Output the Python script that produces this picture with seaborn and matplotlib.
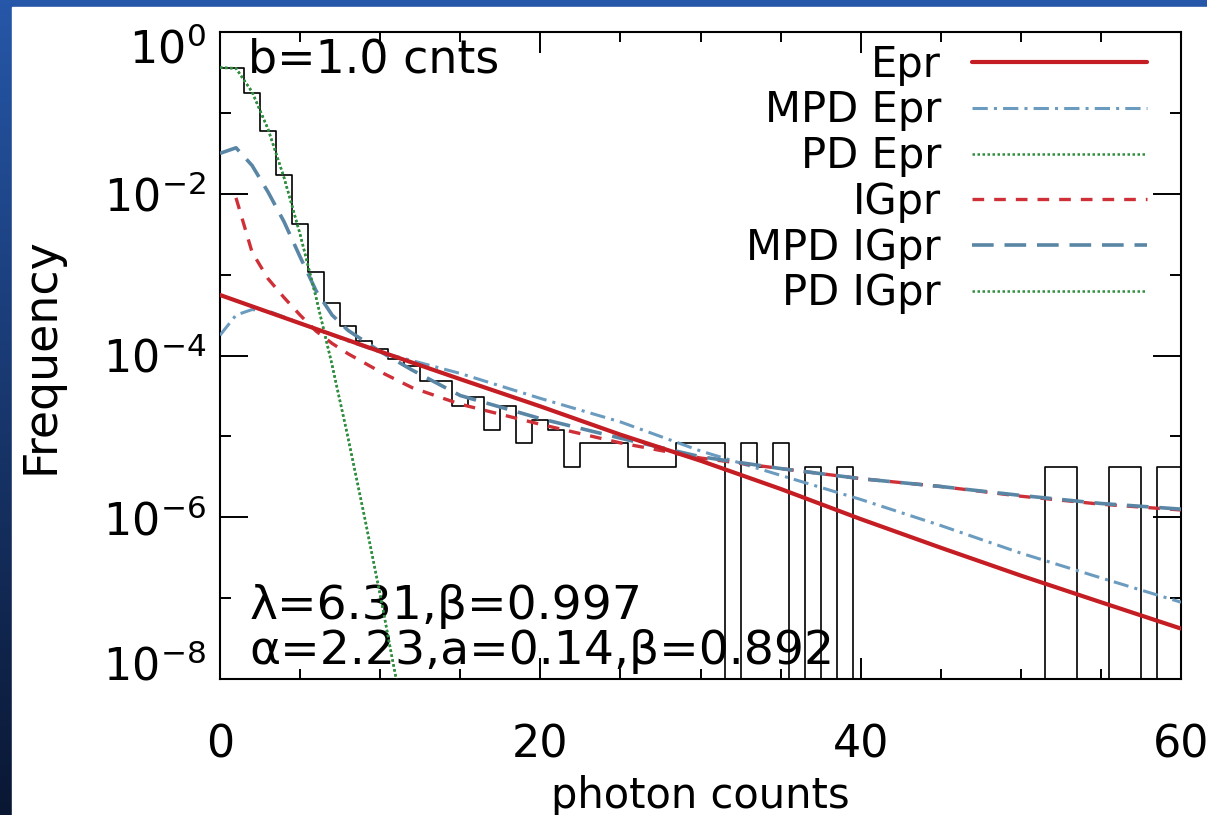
import numpy as np
import matplotlib
matplotlib.use("Agg")
import matplotlib.pyplot as plt
import seaborn as sns
from matplotlib.patches import Rectangle
from matplotlib.colors import LinearSegmentedColormap
from matplotlib.ticker import NullFormatter
from matplotlib.transforms import ScaledTranslation

# ---------------- data ----------------
hist_counts = list(range(61))
hist_freq = [0.36, 0.36, 0.176, 0.059, 0.0172, 0.0042, 0.00108, 4.4e-4, 2.3e-4, 1.5e-4,
             1.2e-4, 9.0e-5, 7.5e-5, 4.9e-5, 4.9e-5, 2.4e-5, 3.1e-5, 1.2e-5, 2.35e-5, 8.3e-6,
             1.6e-5, 1.2e-5, 4.2e-6, 8.2e-6, 8.2e-6, 8.2e-6, 4.2e-6, 4.2e-6, 4.2e-6, 8.2e-6,
             8.2e-6, 8.2e-6, 0, 8.2e-6, 4.2e-6, 8.2e-6, 0, 4.2e-6, 0, 4.2e-6,
             0, 0, 0, 0, 0, 0, 0, 0, 0, 0,
             0, 0, 4.2e-6, 4.2e-6, 0, 0, 4.2e-6, 4.2e-6, 0, 4.2e-6, 4.2e-6]

epr_x = [0, 5, 10, 15, 20, 25, 30, 35, 40, 45, 50, 55, 60]
epr_y = [5.6e-4, 2.5e-4, 1.12e-4, 5.1e-5, 2.35e-5, 1.05e-5, 5.0e-6, 2.24e-6, 9.5e-7,
         4.2e-7, 1.9e-7, 8.9e-8, 4.2e-8]

mpd_epr_x = [0, 1, 2, 3, 4, 5, 6, 8, 10, 15, 20, 25, 30, 35, 40, 45, 50, 55, 60]
mpd_epr_y = [1.78e-4, 3.16e-4, 3.7e-4, 3.55e-4, 3.0e-4, 2.5e-4, 2.14e-4, 1.51e-4, 1.1e-4,
             6.0e-5, 2.95e-5, 1.51e-5, 6.6e-6, 3.3e-6, 1.66e-6, 7.9e-7, 3.6e-7, 1.78e-7, 8.9e-8]

pd_epr_x = [0, 1, 2, 3, 4, 5, 6, 7, 8, 9, 10, 11, 12]
pd_epr_y = [0.363, 0.355, 0.182, 0.063, 0.0158, 3.16e-3, 5.2e-4, 7.6e-5, 9.5e-6, 1.07e-6,
            1.1e-7, 1.0e-8, 8.0e-10]

igpr_x = [1, 2, 3, 4, 5, 6, 7, 8, 10, 12, 15, 20, 25, 30, 35, 40, 45, 50, 55, 60]
igpr_y = [8.9e-3, 1.9e-3, 8.9e-4, 5.2e-4, 3.16e-4, 2.0e-4, 1.41e-4, 1.05e-4, 6.3e-5, 4.0e-5,
          2.5e-5, 1.41e-5, 8.3e-6, 5.4e-6, 4.0e-6, 3.0e-6, 2.4e-6, 1.82e-6, 1.45e-6, 1.23e-6]

mpd_igpr_x = [0, 1, 2, 3, 4, 5, 6, 7, 8, 10, 12, 15, 20, 25, 30, 35, 40, 45, 50, 55, 60]
mpd_igpr_y = [3.16e-2, 3.7e-2, 2.24e-2, 1.05e-2, 4.5e-3, 1.66e-3, 6.3e-4, 3.16e-4, 2.04e-4,
              1.12e-4, 6.6e-5, 3.2e-5, 1.66e-5, 9.5e-6, 5.6e-6, 4.0e-6, 3.0e-6, 2.4e-6,
              1.86e-6, 1.48e-6, 1.26e-6]

pd_igpr_x = [0, 1, 2, 3, 4, 5, 6, 7, 8, 9, 10, 11, 12]
pd_igpr_y = [0.363, 0.355, 0.182, 0.063, 0.0158, 3.16e-3, 5.2e-4, 7.6e-5, 9.5e-6, 1.07e-6,
             1.1e-7, 1.0e-8, 8.0e-10]

legend_labels = ["Epr", "MPD Epr", "PD Epr", "IGpr", "MPD IGpr", "PD IGpr"]
x_major_ticks = [0, 20, 40, 60]
x_minor_ticks = [5, 10, 15, 25, 30, 35, 45, 50, 55]
y_major_ticks = [1e0, 1e-2, 1e-4, 1e-6, 1e-8]
y_minor_ticks = [1e-1, 1e-3, 1e-5, 1e-7]
annot_top = "b=1.0 cnts"
annot_l1 = "λ=6.31,β=0.997"
annot_l2 = "α=2.23,a=0.14,β=0.892"

# ---------------- style ----------------
sns.set_theme(style="ticks")
plt.rcParams['font.family'] = ['DejaVu Sans']
plt.rcParams['mathtext.fontset'] = 'dejavusans'
for k in ['text.color', 'axes.labelcolor', 'xtick.color', 'ytick.color', 'axes.edgecolor']:
    plt.rcParams[k] = 'black'

W, H = 1207, 815
fig = plt.figure(figsize=(W / 100, H / 100), dpi=100)

# slide background: blue gradient with white panel
bg = fig.add_axes([0, 0, 1, 1], zorder=0)
grad = np.linspace(0, 1, 256).reshape(-1, 1)
cmap = LinearSegmentedColormap.from_list('bg', ['#2657a8', '#0a1733'])
bg.imshow(grad, aspect='auto', cmap=cmap, extent=[0, 1, 0, 1], origin='upper')
bg.add_patch(Rectangle((12 / W, 0), 1, 1 - 7 / H, color='white', zorder=2))
bg.set_xlim(0, 1)
bg.set_ylim(0, 1)
bg.axis('off')

ax = fig.add_axes([220 / W, 1 - 679 / H, 961 / W, 647 / H], zorder=1)
ax.set_facecolor('white')

red = '#c41e24'
red_d = '#cf3038'
blue_l = '#6b9cc0'
blue_d = '#5a86a6'
green = '#2f8f3f'

# histogram
sns.lineplot(x=hist_counts, y=hist_freq, ax=ax, color='black', lw=1.2,
             drawstyle='steps-mid', errorbar=None, zorder=2)

h_epr = sns.lineplot(x=epr_x, y=epr_y, ax=ax, color=red, lw=3.0, errorbar=None, zorder=5).lines[-1]
h_mepr = sns.lineplot(x=mpd_epr_x, y=mpd_epr_y, ax=ax, color=blue_l, lw=2.2, errorbar=None,
                      linestyle=(0, (5, 2, 1, 2)), zorder=4).lines[-1]
h_pdepr = sns.lineplot(x=pd_epr_x, y=pd_epr_y, ax=ax, color=green, lw=1.8, errorbar=None,
                       linestyle=(0, (1, 1)), zorder=4).lines[-1]
h_ig = sns.lineplot(x=igpr_x, y=igpr_y, ax=ax, color=red_d, lw=2.4, errorbar=None,
                    linestyle=(0, (3.5, 3)), zorder=4).lines[-1]
h_mig = sns.lineplot(x=mpd_igpr_x, y=mpd_igpr_y, ax=ax, color=blue_d, lw=2.6, errorbar=None,
                     linestyle=(0, (6, 3)), zorder=4).lines[-1]
h_pdig = sns.lineplot(x=pd_igpr_x, y=pd_igpr_y, ax=ax, color=green, lw=1.8, errorbar=None,
                      linestyle=(0, (1, 1)), zorder=4).lines[-1]

ax.set_yscale('log')
ax.set_xlim(0, 60)
ax.set_ylim(1e-8, 1)

ax.set_xticks(x_major_ticks)
ax.set_xticks(x_minor_ticks, minor=True)
ax.set_yticks(y_major_ticks)
ax.set_yticks(y_minor_ticks, minor=True)
ax.yaxis.set_minor_formatter(NullFormatter())
ax.xaxis.set_minor_formatter(NullFormatter())

ax.tick_params(which='both', direction='in', top=True, right=True, width=1.4, color='black')
ax.tick_params(axis='x', which='major', length=15, labelsize=32, pad=32)
ax.tick_params(axis='x', which='minor', length=7)
ax.tick_params(axis='y', which='major', length=20, labelsize=32, pad=10)
ax.tick_params(axis='y', which='minor', length=8)
for s in ax.spines.values():
    s.set_color('black')
    s.set_linewidth(1.5)

# IDL-style: end labels of the y axis pulled inward
yt = ax.yaxis.get_major_ticks()
yt[0].label1.set_transform(yt[0].label1.get_transform() + ScaledTranslation(0, -10 / 72, fig.dpi_scale_trans))
yt[-1].label1.set_transform(yt[-1].label1.get_transform() + ScaledTranslation(0, 12 / 72, fig.dpi_scale_trans))

ax.set_xlabel("photon counts", fontsize=30)
ax.set_ylabel("Frequency", fontsize=33)
ax.xaxis.set_label_coords(0.5, -0.148)
ax.yaxis.set_label_coords(-0.163, 0.5)

ax.text(0.029, 0.992, annot_top, transform=ax.transAxes, fontsize=33, va='top', ha='left')
ax.text(0.031, 0.112, annot_l1, transform=ax.transAxes, fontsize=34, va='center', ha='left')
ax.text(0.031, 0.042, annot_l2, transform=ax.transAxes, fontsize=34, va='center', ha='left')

leg = ax.legend([h_epr, h_mepr, h_pdepr, h_ig, h_mig, h_pdig], legend_labels,
                loc='upper right', bbox_to_anchor=(0.965, 0.982), frameon=False,
                markerfirst=False, fontsize=30, handlelength=4.2, handletextpad=0.75,
                labelspacing=0.09, borderpad=0, borderaxespad=0)

fig.savefig('out.png', dpi=100)
